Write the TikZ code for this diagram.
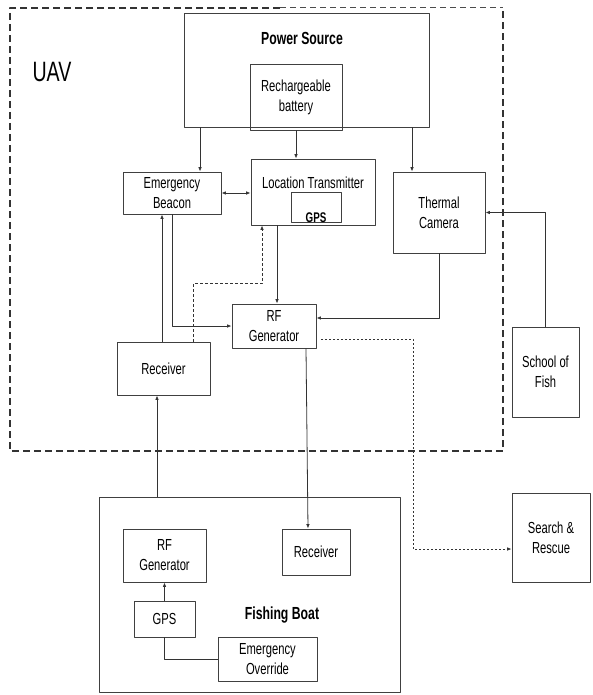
\documentclass[tikz,border=0pt]{standalone}
\usepackage{fontspec}
\setmainfont{Liberation Sans}[FakeStretch=0.7]
\usetikzlibrary{arrows.meta,calc}
\def\tip{Latex[length=4.5pt,width=3.6pt]}

\begin{document}
\begin{tikzpicture}[x=1pt, y=-1pt, line join=round,
		txt/.style={align=center, inner sep=0pt, font=\fontsize{16}{20}\selectfont},
		box/.style={txt, draw=black!75, line width=0.9pt},
		sz/.style 2 args={minimum width=#1pt, minimum height=#2pt},
		title/.style={inner sep=0pt, font=\fontsize{17.5}{20}\selectfont\bfseries},
		arr/.style={-{\tip}, line width=0.8pt, black!80},
		dasharr/.style={arr, dash pattern=on 3pt off 2pt},
		dotarr/.style={arr, dash pattern=on 2pt off 2pt},
		uavline/.style={line width=1.8pt, black!80, dash pattern=on 7pt off 4pt}]
		\useasboundingbox (0,0) rectangle (592,695);
		
		% UAV frame
		\draw[uavline] (280,8) -- (10,8) -- (10,451) -- (503,451) -- (503,8);
		\draw[black!70, line width=1pt, dash pattern=on 6pt off 4pt] (280,8) -- (503,8);
		\node[inner sep=0pt, font=\fontsize{28}{30}\selectfont] (uav) at (52,72) {UAV};
		
		% Power Source
		\node[box, sz={245}{114}] (power) at (306.5,70) {};
		\node[title] (powerlbl) at (302,38) {Power Source};
		\node[box, sz={92}{66}] (battery) at (296,97) {Rechargeable\\battery};
		
		% UAV blocks
		\node[box, sz={98}{42}] (beacon) at (172,193) {Emergency\\Beacon};
		\node[box, sz={124}{66}] (loctx) at (313,192) {};
		\node[txt] (loctxlbl) at (313,183) {Location Transmitter};
		\node[box, sz={50}{30}, label={[title, anchor=south, font=\fontsize{14}{15}\selectfont\bfseries]south:GPS}] (gps) at (316,207) {};
		\node[box, sz={92}{81}] (thermal) at (439,212.5) {Thermal\\Camera};
		\node[box, sz={84}{44}] (rfgen) at (274,326) {RF\\Generator};
		\node[box, sz={93}{53}] (rx) at (163.5,368.5) {Receiver};
		\node[box, sz={67}{90}] (fish) at (545.5,372) {School of\\Fish};
		\node[box, sz={78}{89}] (sar) at (551,537.5) {Search \&\\Rescue};
		
		% Fishing Boat
		\node[box, sz={301}{195}] (boat) at (249.5,594.5) {};
		\node[title] (boatlbl) at (282,615) {Fishing Boat};
		\node[box, sz={83}{53}] (brf) at (164.5,555.5) {RF\\Generator};
		\node[box, sz={68}{46}] (brx) at (316,552) {Receiver};
		\node[box, sz={61}{36}] (bgps) at (164.5,619) {GPS};
		\node[box, sz={99}{44}] (override) at (267.5,659) {Emergency\\Override};
		
		% Power lines
		\draw[arr] ([xshift=-106.5]power.south) -- ([xshift=28]beacon.north);
		\draw[arr] (battery.south) -- ([xshift=-17]loctx.north);
		\draw[arr] ([xshift=105.5]power.south) -- ([xshift=-27]thermal.north);
		
		% UAV links
		\draw[{\tip}-{\tip}, line width=0.8pt, black!80] (beacon.east) -- (beacon.east -| loctx.west);
		\draw[arr] ([xshift=-1.5]rx.north) -- ([xshift=-10]beacon.south);
		\draw[arr] (beacon.south) |- (rfgen.west);
		\draw[dasharr] ([xshift=29.5]rx.north) -- ++(0,-58) -| ([xshift=-51]loctx.south);
		\draw[arr] ([xshift=-36]loctx.south) -- ([xshift=3]rfgen.north);
		\draw[arr] (thermal.south) |- ([yshift=8]rfgen.east);
		\draw[arr] (fish.north) |- (thermal.east);
		\draw[dotarr] ([xshift=5,yshift=-13]rfgen.east) -- ++(92,0) |- ([yshift=-11.5]sar.west);
		
		% UAV - boat
		\draw[arr] ([xshift=32]rfgen.south) -- ([xshift=-8]brx.north);
		\draw[arr] ([xshift=-92.5]boat.north) -- ([xshift=-6.5]rx.south);
		
		% Boat links
		\draw[arr] (bgps.north) -- (brf.south);
		\draw[line width=0.8pt, black!80] (override.west) -| (bgps.south);
	\end{tikzpicture}
\end{document}
